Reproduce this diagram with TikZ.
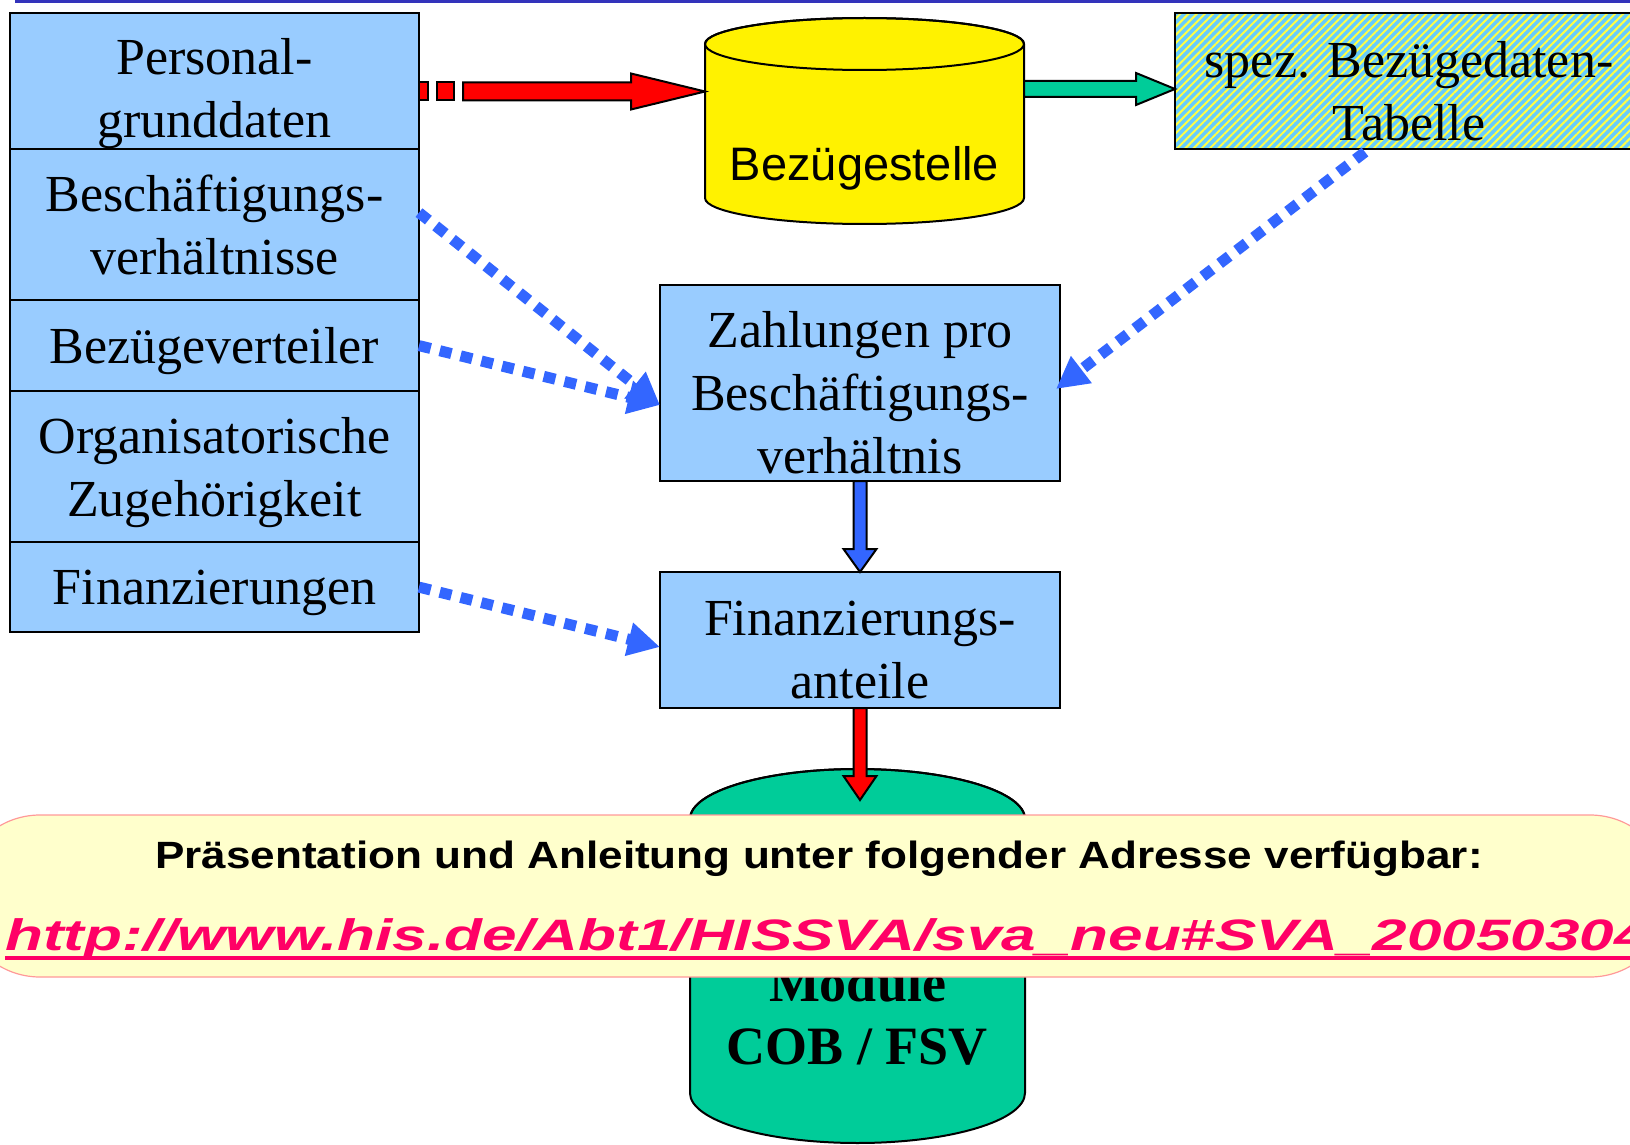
\documentclass[tikz,border=0pt]{standalone}
\usepackage{fontspec}
\setmainfont{Liberation Serif}
\setsansfont{Liberation Sans}
\usetikzlibrary{positioning, arrows.meta, calc, patterns.meta}

\definecolor{boxblue}{HTML}{99CCFF}
\definecolor{dotblue}{HTML}{3366FF}
\definecolor{drumgreen}{HTML}{00CC99}
\definecolor{hatchcyan}{HTML}{66CCFF}
\definecolor{hatchyellow}{HTML}{FFFF44}
\definecolor{bannerfill}{HTML}{FFFFCC}
\definecolor{bannerline}{HTML}{FF9999}
\definecolor{urlred}{HTML}{FF0066}
\definecolor{rulebar}{HTML}{3333BB}

% invisible strut on the first line, pushes the box text down
\newcommand{\textdrop}[1]{\rule{0pt}{#1}}

\begin{document}
\begin{tikzpicture}[
    x=0.5pt, y=-0.5pt, % one unit is one pixel of the slide, y runs downwards
    % Styles for the boxes
    block/.style={rectangle, draw, line width=1pt, fill=boxblue, outer sep=0pt, inner sep=0pt,
        align=center, minimum width=204.5pt, font=\fontsize{26}{31.5}\selectfont},
    hatch/.style={ % striped box for the table
        fill=hatchcyan,
        postaction={pattern={Lines[angle=45, distance=2.9pt, line width=1pt]}, pattern color=hatchyellow},
        postaction={draw, line width=1pt}
    },
    drumlabel/.style={font=\sffamily\fontsize{23.5}{27}\selectfont},
    coblabel/.style={align=center, font=\bfseries\fontsize{27}{31.5}\selectfont},
    % dotted connectors
    dotline/.style={
        draw=dotblue, line width=5.5pt, dash pattern=on 6pt off 4.7pt,
        -{Triangle[length=16pt, width=16pt]}
    },
    banner/.style={rectangle, rounded corners=40pt, fill=bannerfill, draw=bannerline,
        line width=0.6pt, minimum width=855pt, minimum height=81pt},
    bannertitle/.style={inner sep=0pt, font=\sffamily\bfseries\fontsize{19}{22}\selectfont},
    bannerurl/.style={inner sep=0pt, text=urlred, font=\sffamily\bfseries\itshape\fontsize{22}{26}\selectfont}
]

% Fat outlined arrow: from, to, half body width, half head width, head length, fill
\newcommand{\fatarrow}[6]{
    \coordinate (fa-base) at ($(#2)!#5!(#1)$);
    \filldraw[fill=#6, line width=1pt]
        ($(#1)!#3!90:(#2)$) -- ($(fa-base)!#3!90:(#2)$) -- ($(fa-base)!#4!90:(#2)$)
        -- (#2) -- ($(fa-base)!#4!-90:(#2)$) -- ($(fa-base)!#3!-90:(#2)$)
        -- ($(#1)!#3!-90:(#2)$) -- cycle;
}

% Upright drum: centre x, top y, bottom y, x radius, y radius, fill
\newcommand{\drumbody}[6]{
    \filldraw[fill=#6, line width=1pt] (#1-#4, #2+#5) -- (#1-#4, #3-#5)
        arc[start angle=180, end angle=0, x radius=#4, y radius=#5]
        -- (#1+#4, #2+#5)
        arc[start angle=0, end angle=-180, x radius=#4, y radius=#5] -- cycle;
    \draw[line width=1pt] (#1, #2+#5) ellipse[x radius=#4, y radius=#5];
}

\useasboundingbox (0,0) rectangle (1630,1145);
\clip (0,0) rectangle (1630,1145);

\draw[rulebar, line width=1.5pt] (15,2) -- (1630,2);

% the two drums
\drumbody{864.5}{18}{224}{159.5}{26}{yellow}
\node [drumlabel] (bez) at (864.5,168) {Bezügestelle};
\coordinate (bez-in) at (705,91.5);
\coordinate (bez-out) at (1024,89);

\drumbody{857.5}{769}{1143}{167.5}{50}{drumgreen}
\node [coblabel] (cob) at (857.5,1015) {Module\\COB / FSV};
\coordinate (cob-in) at (860,800);

% left column, stacked
\node [block, minimum height=68pt] (pers) at (214.5,81) {\textdrop{31pt}Personal-\\grunddaten};
\node [block, minimum height=75.5pt, below=0pt of pers] (besch) {Beschäftigungs-\\verhältnisse};
\node [block, minimum height=45.5pt, below=0pt of besch] (bezv) {\textdrop{23pt}Bezügeverteiler};
\node [block, minimum height=75.5pt, below=0pt of bezv] (orga) {\textdrop{24pt}Organisatorische\\Zugehörigkeit};
\node [block, minimum height=45pt, below=0pt of orga] (fin) {\textdrop{23pt}Finanzierungen};

% right side
\node [block, hatch, minimum width=234pt, minimum height=68pt] (spez) at (1409,81) {\textdrop{27.8pt}spez. Bezügedaten-\\Tabelle};
\node [block, minimum width=200pt, minimum height=98pt] (zahl) at (860,383) {\textdrop{27.8pt}Zahlungen pro\\Beschäftigungs-\\verhältnis};
\node [block, minimum width=200pt, minimum height=68pt] (finanz) at (860,640) {\textdrop{26.8pt}Finanzierungs-\\anteile};

% red striped arrow into the drum
\coordinate (red-from) at ($(pers.east)+(0,10.5)$);
\filldraw[fill=red, line width=1pt] ($(red-from)+(0,-9)$) rectangle ++(9,18);
\filldraw[fill=red, line width=1pt] ($(red-from)+(18,-9)$) rectangle ++(17,18);
\coordinate (red-body) at ($(red-from)+(44,0)$);
\fatarrow{red-body}{bez-in}{4.5pt}{9pt}{37pt}{red}

\coordinate (spez-in) at ($(spez.west)+(0,8)$);
\fatarrow{bez-out}{spez-in}{4pt}{8pt}{19.5pt}{drumgreen}

\fatarrow{zahl.south}{finanz.north}{3.25pt}{8.25pt}{11.5pt}{dotblue}
\fatarrow{finanz.south}{cob-in}{3.25pt}{8.25pt}{12pt}{red}

% dotted connectors
\coordinate (zahl-in) at ($(zahl.west)+(0,22)$);
\draw [dotline] ($(besch.east)+(0,-12)$) -- (zahl-in);
\draw [dotline] (bezv.east) -- (zahl-in);
\draw [dotline] ($(spez.south)+(-44,3)$) -- ($(zahl.east)+(-4,6)$);
\draw [dotline] (fin.east) -- ($(finanz.west)+(0,7)$);

% note banner across the slide
\node [banner] (note) at (815,896) {};
\node [bannertitle, anchor=base] (note-title) at (819,868) {\scalebox{1.16}[1]{Präsentation und Anleitung unter folgender Adresse verfügbar:}};
\node [bannerurl, anchor=base west] (note-url) at (5,950) {\scalebox{1.41}[1]{http://www.his.de/Abt1/HISSVA/sva\_neu\#SVA\_20050304}};
\draw [urlred, line width=2pt] ($(note-url.base west)+(0,8)$) -- ($(note-url.base east)+(0,8)$);

\end{tikzpicture}
\end{document}
